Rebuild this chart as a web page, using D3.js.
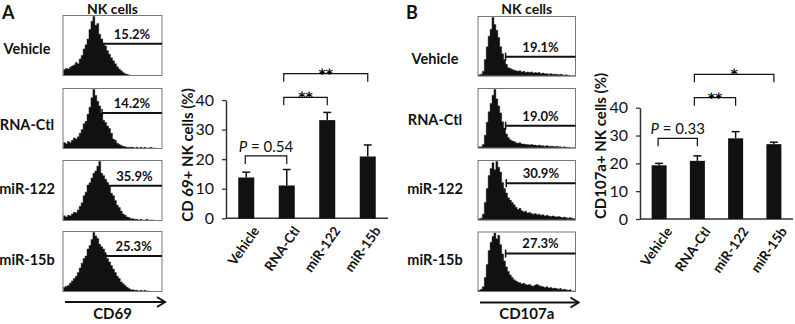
<!DOCTYPE html>
<html><head><meta charset="utf-8">
<script src="https://cdn.jsdelivr.net/npm/d3@7"></script>
<style>
body{margin:0;background:#fff}
svg{display:block}
text{font-family:Lato,"Open Sans",sans-serif;fill:#111}
text.sig{font-family:"DejaVu Sans",sans-serif;fill:#000;-webkit-font-smoothing:antialiased;text-rendering:geometricPrecision}
</style>
</head><body>
<svg id="c" width="795" height="324"></svg>
<script>
// ---------------- data ----------------
const categories = ["Vehicle", "RNA-Ctl", "miR-122", "miR-15b"];
const yTicks = [0, 10, 20, 30, 40];

// Panel A: CD69+ NK cells (%)
const cd69Means = [13.8, 11.1, 33.2, 20.9];
const cd69Err   = [1.8, 5.4, 2.6, 3.9];
const cd69SigFrom  = [0, 1, 1];
const cd69SigTo    = [1, 2, 3];
const cd69SigLevel = [21.1, 40.9, 48.9];
const cd69SigLabel = ["P = 0.54", "**", "**"];
const cd69Pct   = ["15.2%", "14.2%", "35.9%", "25.3%"];
const cd69Gate  = [0.394, 0.394, 0.444, 0.427];
const cd69GateH = [0.54, 0.60, 0.59, 0.60];

// Panel B: CD107a+ NK cells (%)
const cd107Means = [19.3, 20.9, 29.0, 26.9];
const cd107Err   = [0.7, 1.8, 2.4, 0.7];
const cd107SigFrom  = [0, 1, 1];
const cd107SigTo    = [1, 2, 3];
const cd107SigLevel = [29.0, 43.6, 52.0];
const cd107SigLabel = ["P = 0.33", "**", "*"];
const cd107Pct   = ["19.1%", "19.0%", "30.9%", "27.3%"];
const cd107Gate  = [0.283, 0.283, 0.29, 0.283];
const cd107GateH = [0.33, 0.38, 0.63, 0.65];

// Flow histograms (50 bins, % of max count)
const histCD69Vehicle = [10,12,11,14,16,18,22,20,28,34,45,52,62,78,92,100,85,88,70,62,55,50,42,36,30,25,20,15,11,8,5,3,2,1,0,0,0,0,0,0,0,0,0,0,0,0,0,0,0,0];
const histCD69RNACtl  = [10,8,12,10,14,18,16,20,26,32,42,46,58,70,86,100,90,80,72,60,48,44,38,34,26,16,14,9,7,5,4,3,2,2,2,2,1,2,1,2,1,2,1,1,2,1,1,0,0,0];
const histCD69miR122  = [8,6,9,8,11,14,13,18,24,30,42,48,60,64,72,80,84,92,100,80,76,70,64,58,46,42,34,26,22,16,11,9,6,5,3,3,2,2,1,2,1,1,2,1,1,1,0,0,0,0];
const histCD69miR15b  = [7,9,10,14,18,22,26,32,40,48,56,60,72,78,88,100,94,90,80,76,72,64,56,50,44,38,32,26,22,16,13,10,7,5,3,3,2,2,1,2,1,2,1,1,0,0,0,0,0,0];
const histCD107Vehicle = [2,3,8,28,50,68,80,100,88,78,66,50,38,28,20,14,13,11,10,9,8,9,7,8,6,7,6,7,5,6,5,6,4,5,4,4,3,4,3,3,3,2,3,2,1,2,1,0,0,0];
const histCD107RNACtl  = [2,2,6,22,44,62,76,90,100,84,72,60,45,34,24,18,14,12,11,9,8,9,7,7,6,6,5,6,5,5,4,5,4,4,3,4,3,3,3,2,3,2,2,1,2,1,1,0,0,0];
const histCD107miR122  = [2,3,10,30,54,76,88,98,86,100,90,82,64,54,46,38,34,30,26,22,18,20,16,14,15,12,13,11,10,11,9,10,8,9,7,8,7,6,7,6,5,6,5,4,5,4,3,4,3,2];
const histCD107miR15b  = [2,4,8,24,46,70,84,94,100,90,96,80,64,52,42,34,28,24,20,18,16,15,13,14,12,11,12,10,9,11,12,10,9,8,7,8,6,7,5,6,5,4,5,3,4,3,2,3,1,1];

// ---------------- drawing ----------------
const svg = d3.select("#c");
const ink = "#111";

function histPanel(o) {
  const g = svg.append("g");
  g.append("text").attr("x", o.letterX).attr("y", 19).attr("font-size", 18).attr("font-weight", 700).text(o.letter);
  g.append("text").attr("x", o.bx + o.bw / 2).attr("y", 14).attr("text-anchor", "middle")
    .attr("font-size", 14).attr("font-weight", 700).text("NK cells");
  const xs = d3.scaleLinear().domain([0, 1]).range([o.bx, o.bx + o.bw]);
  o.hists.forEach((h, i) => {
    const top = o.tops[i], bot = top + o.bh;
    const xb = d3.scaleLinear().domain([0, h.length]).range([o.bx + 0.5, o.bx + o.bw - 0.5]);
    const ys = d3.scaleLinear().domain([0, 100]).range([bot, top + 1]);
    const pts = h.concat([h[h.length - 1]]);
    g.append("path").datum(pts)
      .attr("d", d3.area().x((d, j) => xb(j)).y0(bot).y1(d => ys(d)).curve(d3.curveStepAfter))
      .attr("fill", ink).attr("stroke", ink).attr("stroke-width", 0.4);
    g.append("rect").attr("x", o.bx).attr("y", top).attr("width", o.bw).attr("height", o.bh)
      .attr("fill", "none").attr("stroke", "#777").attr("stroke-width", 1);
    const gx = xs(o.gates[i]), gy = ys(o.gateH[i] * 100);
    g.append("line").attr("x1", gx).attr("x2", o.bx + o.bw).attr("y1", gy).attr("y2", gy)
      .attr("stroke", ink).attr("stroke-width", 2);
    g.append("line").attr("x1", gx).attr("x2", gx).attr("y1", gy - 4).attr("y2", gy + 4)
      .attr("stroke", ink).attr("stroke-width", 1.5);
    g.append("text").attr("x", (gx + o.bx + o.bw) / 2).attr("y", gy - 5).attr("text-anchor", "middle")
      .attr("font-size", 13).attr("font-weight", 700).text(o.pcts[i]);
    g.append("text").attr("x", o.labelX).attr("y", o.labelYs[i]).attr("text-anchor", "middle")
      .attr("font-size", 14.5).attr("font-weight", 700).text(categories[i]);
  });
  // arrow
  const ay = o.arrowY, ax0 = o.bx + 2, ax1 = o.bx + o.bw + 3;
  g.append("line").attr("x1", ax0).attr("x2", ax1).attr("y1", ay).attr("y2", ay)
    .attr("stroke", ink).attr("stroke-width", 2);
  g.append("path").attr("d", `M${ax1 - 8},${ay - 5}L${ax1},${ay}L${ax1 - 8},${ay + 5}`)
    .attr("fill", "none").attr("stroke", ink).attr("stroke-width", 2);
  g.append("text").attr("x", o.bx + o.bw / 2).attr("y", 319).attr("text-anchor", "middle")
    .attr("font-size", 15).attr("font-weight", 700).text(o.marker);
}

function barPanel(o) {
  const g = svg.append("g");
  const x = d3.scalePoint().domain(categories).range([o.x0, o.x1]).padding(0.5);
  const y = d3.scaleLinear().domain([0, 40]).range([o.y0, o.y1]);
  // y axis
  const ax = g.append("g").attr("transform", `translate(${o.x0},0)`)
    .call(d3.axisLeft(y).tickValues(yTicks).tickSize(4).tickSizeOuter(0).tickPadding(8));
  ax.select(".domain").attr("stroke", "#333").attr("stroke-width", 1.5);
  ax.selectAll(".tick line").attr("stroke", "#333").attr("stroke-width", 1.3);
  ax.selectAll(".tick text").attr("font-size", 16).attr("fill", ink)
    .style("font-family", "Lato, 'Open Sans', sans-serif");
  // x axis line
  g.append("line").attr("x1", o.x0).attr("x2", o.x1).attr("y1", y(0)).attr("y2", y(0))
    .attr("stroke", "#333").attr("stroke-width", 1.5);
  // bars
  g.selectAll("rect.bar").data(o.means).join("rect").attr("class", "bar")
    .attr("x", (d, i) => x(categories[i]) - o.bw / 2).attr("width", o.bw)
    .attr("y", d => y(d)).attr("height", d => y(0) - y(d)).attr("fill", ink);
  // error bars
  o.means.forEach((m, i) => {
    const cx = x(categories[i]);
    g.append("line").attr("x1", cx).attr("x2", cx).attr("y1", y(m)).attr("y2", y(m + o.errs[i]))
      .attr("stroke", ink).attr("stroke-width", 1.5);
    g.append("line").attr("x1", cx - 4).attr("x2", cx + 4).attr("y1", y(m + o.errs[i])).attr("y2", y(m + o.errs[i]))
      .attr("stroke", ink).attr("stroke-width", 1.5);
    g.append("text")
      .attr("transform", `translate(${cx + 6},${y(0) + 7}) rotate(-55)`)
      .attr("text-anchor", "end").attr("dy", "0.7em")
      .attr("font-size", 13.5).attr("font-weight", 700).text(categories[i]);
  });
  // significance brackets
  o.sigFrom.forEach((a, k) => {
    const xa = x(categories[a]) - (k > 0 ? 3 : 1), xb = x(categories[o.sigTo[k]]);
    const yl = y(o.sigLevel[k]);
    g.append("path").attr("d", `M${xa},${yl + 8}V${yl}H${xb}V${yl + 8}`)
      .attr("fill", "none").attr("stroke", ink).attr("stroke-width", 1.2);
    const lab = o.sigLabel[k];
    if (lab.startsWith("P")) {
      const t = g.append("text").attr("x", (xa + xb) / 2).attr("text-anchor", "middle");
      t.attr("y", yl - 4).attr("font-size", 15);
      t.append("tspan").attr("font-style", "italic").text("P");
      t.append("tspan").text(lab.slice(1));
    } else {
      g.append("text").attr("class", "sig").attr("x", (xa + xb) / 2).attr("text-anchor", "middle")
        .attr("y", yl + 5).attr("font-size", 14).attr("font-weight", 700).text(lab);
    }
  });
  // y title
  g.append("text").attr("transform", `translate(${o.titleX},${o.titleY}) rotate(-90)`)
    .attr("text-anchor", "middle").attr("font-size", 15).attr("font-weight", 700).text(o.title);
}

histPanel({letter: "A", letterX: 2, bx: 63, bw: 99, tops: [15.5, 88.5, 160.5, 231.5], bh: 60,
  hists: [histCD69Vehicle, histCD69RNACtl, histCD69miR122, histCD69miR15b],
  gates: cd69Gate, gateH: cd69GateH, pcts: cd69Pct, labelX: 27, labelYs: [54, 130, 194, 265],
  arrowY: 302, marker: "CD69"});
histPanel({letter: "B", letterX: 406, bx: 478, bw: 97.5, tops: [16.5, 88.5, 160.5, 232], bh: 59.5,
  hists: [histCD107Vehicle, histCD107RNACtl, histCD107miR122, histCD107miR15b],
  gates: cd107Gate, gateH: cd107GateH, pcts: cd107Pct, labelX: 435, labelYs: [64, 125, 194, 265],
  arrowY: 302.5, marker: "CD107a"});

barPanel({x0: 226, x1: 388, y0: 218.3, y1: 100, bw: 16, means: cd69Means, errs: cd69Err,
  sigFrom: cd69SigFrom, sigTo: cd69SigTo, sigLevel: cd69SigLevel, sigLabel: cd69SigLabel,
  title: "CD 69+  NK cells (%)", titleX: 193, titleY: 155});
barPanel({x0: 640, x1: 793, y0: 219, y1: 107.7, bw: 15, means: cd107Means, errs: cd107Err,
  sigFrom: cd107SigFrom, sigTo: cd107SigTo, sigLevel: cd107SigLevel, sigLabel: cd107SigLabel,
  title: "CD107a+  NK cells (%)", titleX: 606, titleY: 146});
</script>
</body></html>
